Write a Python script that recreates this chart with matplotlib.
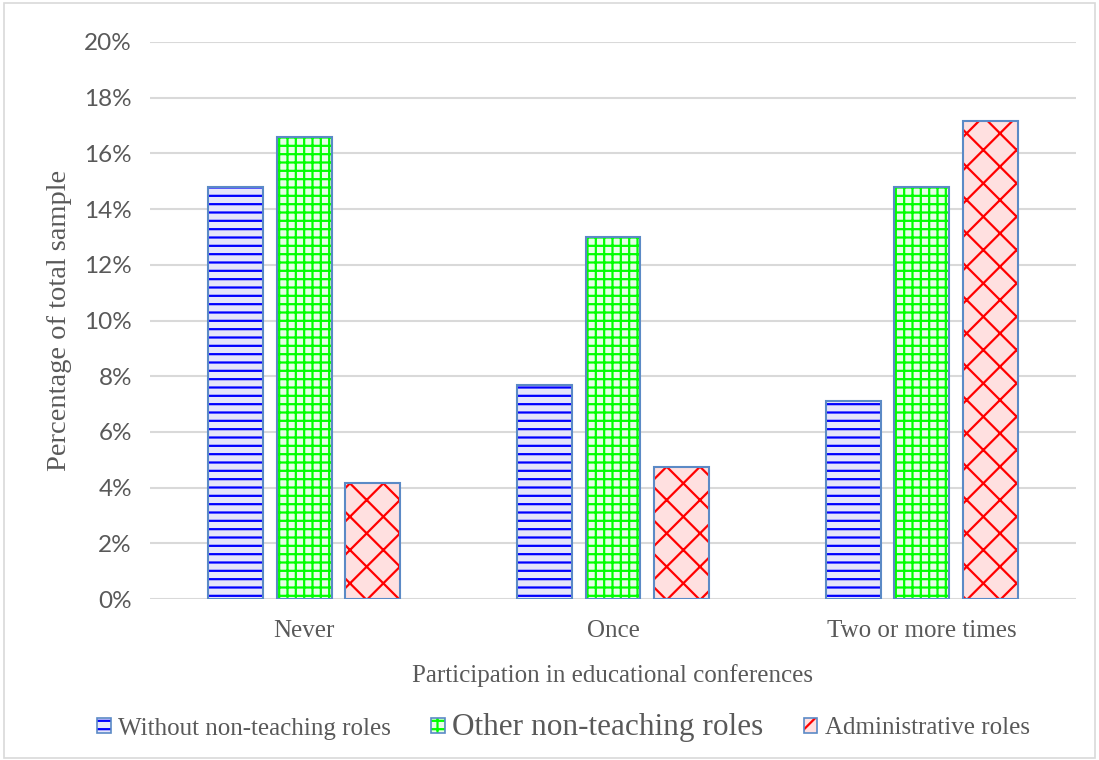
import matplotlib
matplotlib.use("Agg")
import matplotlib.pyplot as plt
from matplotlib.patches import Patch, Rectangle
from matplotlib.legend_handler import HandlerTuple
import numpy as np

categories = ["Never", "Once", "Two or more times"]
series_names = ["Without non-teaching roles", "Other non-teaching roles", "Administrative roles"]
without_roles = [14.8, 7.7, 7.1]
other_roles = [16.6, 13.0, 14.8]
admin_roles = [4.15, 4.75, 17.15]
yticks = [0, 2, 4, 6, 8, 10, 12, 14, 16, 18, 20]

plt.rcParams['font.family'] = ['Liberation Serif', 'DejaVu Serif']
plt.rcParams['hatch.linewidth'] = 1.6
text_color = '#595959'
edge = '#5B8AC6'

fig = plt.figure(figsize=(10.99, 7.6), dpi=100)
ax = fig.add_axes([150 / 1099, 1 - 599 / 760, (1076 - 150) / 1099, (599 - 42) / 760])

x = np.arange(len(categories))
width = 0.178
offsets = [-0.222, 0.0, 0.222]
data = [without_roles, other_roles, admin_roles]
faces = ['#E6E6FA', '#E6FFE6', '#FFE0E0']
hatch_colors = ['#0000FF', '#00FF00', '#FF0000']
hatches = ['--', '++', 'x']

for vals, off, fc, hc, h in zip(data, offsets, faces, hatch_colors, hatches):
    ax.bar(x + off, vals, width, facecolor=fc, edgecolor=hc, hatch=h, linewidth=0, zorder=3)
    ax.bar(x + off, vals, width, facecolor='none', edgecolor=edge, linewidth=1.5, zorder=4)

ax.set_xlim(-0.5, 2.5)
ax.set_ylim(0, 20)
ax.set_yticks(yticks)
ax.set_yticklabels([f"{t}%" for t in yticks], family=['Lato', 'DejaVu Sans'])
ax.set_xticks(x)
ax.set_xticklabels(categories)
ax.yaxis.grid(True, color='#D9D9D9', linewidth=1.5, zorder=0)
ax.set_axisbelow(True)
for s in ax.spines.values():
    s.set_visible(False)
ax.tick_params(axis='y', length=0, labelsize=17.5, colors=text_color, pad=13)
ax.tick_params(axis='x', length=0, labelsize=18, colors=text_color, pad=15)
ax.set_ylabel("Percentage of total sample", fontsize=20.5, color=text_color, labelpad=9)
ax.set_xlabel("Participation in educational conferences", fontsize=18, color=text_color, labelpad=16)

handles = [(Patch(facecolor=fc, edgecolor=hc, hatch=h, linewidth=0),
            Patch(facecolor='none', edgecolor=edge, linewidth=1.2))
           for fc, hc, h in zip(faces, hatch_colors, hatches)]
leg = fig.legend(handles, series_names, loc='center',
                 bbox_to_anchor=(0.5 + 14 / 1099, 1 - 727 / 760),
                 ncol=3, frameon=False, fontsize=18, handlelength=0.55, handleheight=0.55,
                 handletextpad=0.3, columnspacing=1.6, labelcolor=text_color,
                 handler_map={tuple: HandlerTuple(ndivide=1, pad=0)})
leg.get_texts()[1].set_fontsize(22.5)

fig.patches.append(Rectangle((0.004, 0.002), 0.992, 0.994, transform=fig.transFigure,
                             fill=False, edgecolor='#D9D9D9', linewidth=1.2))

fig.savefig("out.png", dpi=100)
